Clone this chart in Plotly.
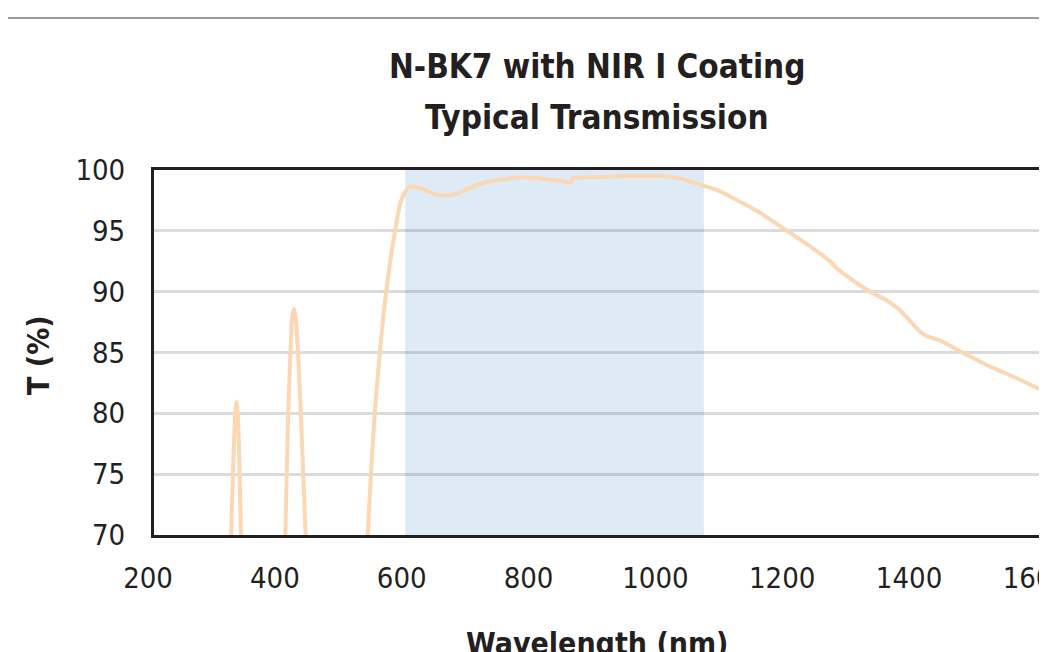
import plotly.graph_objects as go

# Transmission curve (wavelength nm, T %); values below 70 fall off the axis
wavelength = [200, 300, 316, 321.6, 325, 328, 330, 332, 334.5, 337, 342,
              380, 400, 407, 411, 415, 418, 421, 424, 428, 433, 439, 446,
              490, 530, 537, 542, 548, 556, 566, 580, 588, 596, 603, 611, 625,
              645, 663, 685, 710, 734, 760, 780, 810, 840, 858, 861, 900, 940,
              971, 1000, 1030, 1061, 1090, 1113, 1155, 1198, 1235, 1266, 1275,
              1282, 1300, 1329, 1355, 1376, 1392, 1408, 1420, 1439, 1475, 1520,
              1560, 1600]
transmission = [40, 45, 60, 70, 76, 80, 81, 80, 76, 70, 60,
                50, 58, 70, 79, 85, 88, 88.6, 87.5, 84, 78, 70, 60,
                45, 60, 70, 75, 80, 85, 90, 95, 97.2, 98.2, 98.6, 98.6, 98.4,
                98.0, 97.9, 98.2, 98.8, 99.1, 99.3, 99.4, 99.3, 99.1, 99.0, 99.35,
                99.4, 99.5, 99.5, 99.5, 99.3, 98.8, 98.3, 97.7, 96.5, 95.0, 93.7,
                92.5, 92.0, 91.7, 91.0, 90.0, 89.3, 88.5, 87.6, 86.7, 86.3, 86.0,
                85.0, 83.8, 82.9, 81.9]

band_start, band_end = 596, 1067
x_ticks = [200, 400, 600, 800, 1000, 1200, 1400, 1600]
y_ticks = [70, 75, 80, 85, 90, 95, 100]
title_lines = ["N-BK7 with NIR I Coating", "Typical Transmission"]

FONT = "Liberation Sans Narrow, DejaVu Sans Condensed, Arial Narrow, sans-serif"
INK = "#231f20"

OFF = 8  # page body margin offset
L, R, T, B = 154 - OFF, 1047 - (1042 - OFF), 170 - OFF, 652 - (535 - OFF)
W, H = 1047 - L - R, 652 - T - B


def px_x(p):
    return (p - OFF - L) / W


def px_y(p):
    return (652 - B - (p - OFF)) / H


fig = go.Figure()
fig.add_trace(go.Scatter(
    x=wavelength, y=transmission, mode="lines",
    line=dict(color="#fcd7b3", width=4, shape="spline", smoothing=0.5),
    hoverinfo="skip", showlegend=False, cliponaxis=True,
))

fig.add_shape(type="rect", xref="x", yref="paper", x0=band_start, x1=band_end,
              y0=0, y1=1, fillcolor="#deebf6", line_width=0, layer="below")
fig.add_shape(type="line", xref="paper", yref="paper", x0=px_x(0), x1=px_x(1060),
              y0=px_y(18), y1=px_y(18), line=dict(color="#7a7a7a", width=1.5))

annots = [
    dict(text="<b>" + title_lines[0] + "</b>", x=px_x(597), y=px_y(67),
         font=dict(family=FONT, size=33, color=INK)),
    dict(text="<b>" + title_lines[1] + "</b>", x=px_x(597), y=px_y(118),
         font=dict(family=FONT, size=33, color=INK)),
    dict(text="<b>T (%)</b>", x=px_x(38), y=px_y(355), textangle=-90,
         font=dict(family=FONT, size=30, color=INK)),
    dict(text="<b>Wavelength (nm)</b>", x=px_x(597), y=px_y(643),
         font=dict(family=FONT, size=30, color=INK)),
]
for a in annots:
    a.update(xref="paper", yref="paper", showarrow=False,
             xanchor="center", yanchor="middle")

fig.update_layout(
    width=1047, height=652, autosize=False,
    margin=dict(l=L, r=R, t=T, b=B, autoexpand=False),
    paper_bgcolor="white", plot_bgcolor="white",
    font=dict(family=FONT, color=INK),
    annotations=annots,
)
fig.update_xaxes(range=[199.9, 1600.2], tickvals=x_ticks, showgrid=False, zeroline=False,
                 showline=True, mirror=True, linecolor=INK, linewidth=3,
                 ticks="", ticklabelstandoff=15, ticklabelshift=-6,
                 ticklabeloverflow="allow", automargin=False,
                 tickfont=dict(family=FONT, size=29, color=INK))
fig.update_yaxes(range=[70, 100], tickvals=y_ticks, showgrid=True,
                 gridcolor="rgba(0,0,0,0.14)", gridwidth=3, zeroline=False,
                 showline=True, mirror=True, linecolor=INK, linewidth=3,
                 ticks="", ticklabelstandoff=20, automargin=False,
                 tickfont=dict(family=FONT, size=29, color=INK))

fig.write_html("out.html")
